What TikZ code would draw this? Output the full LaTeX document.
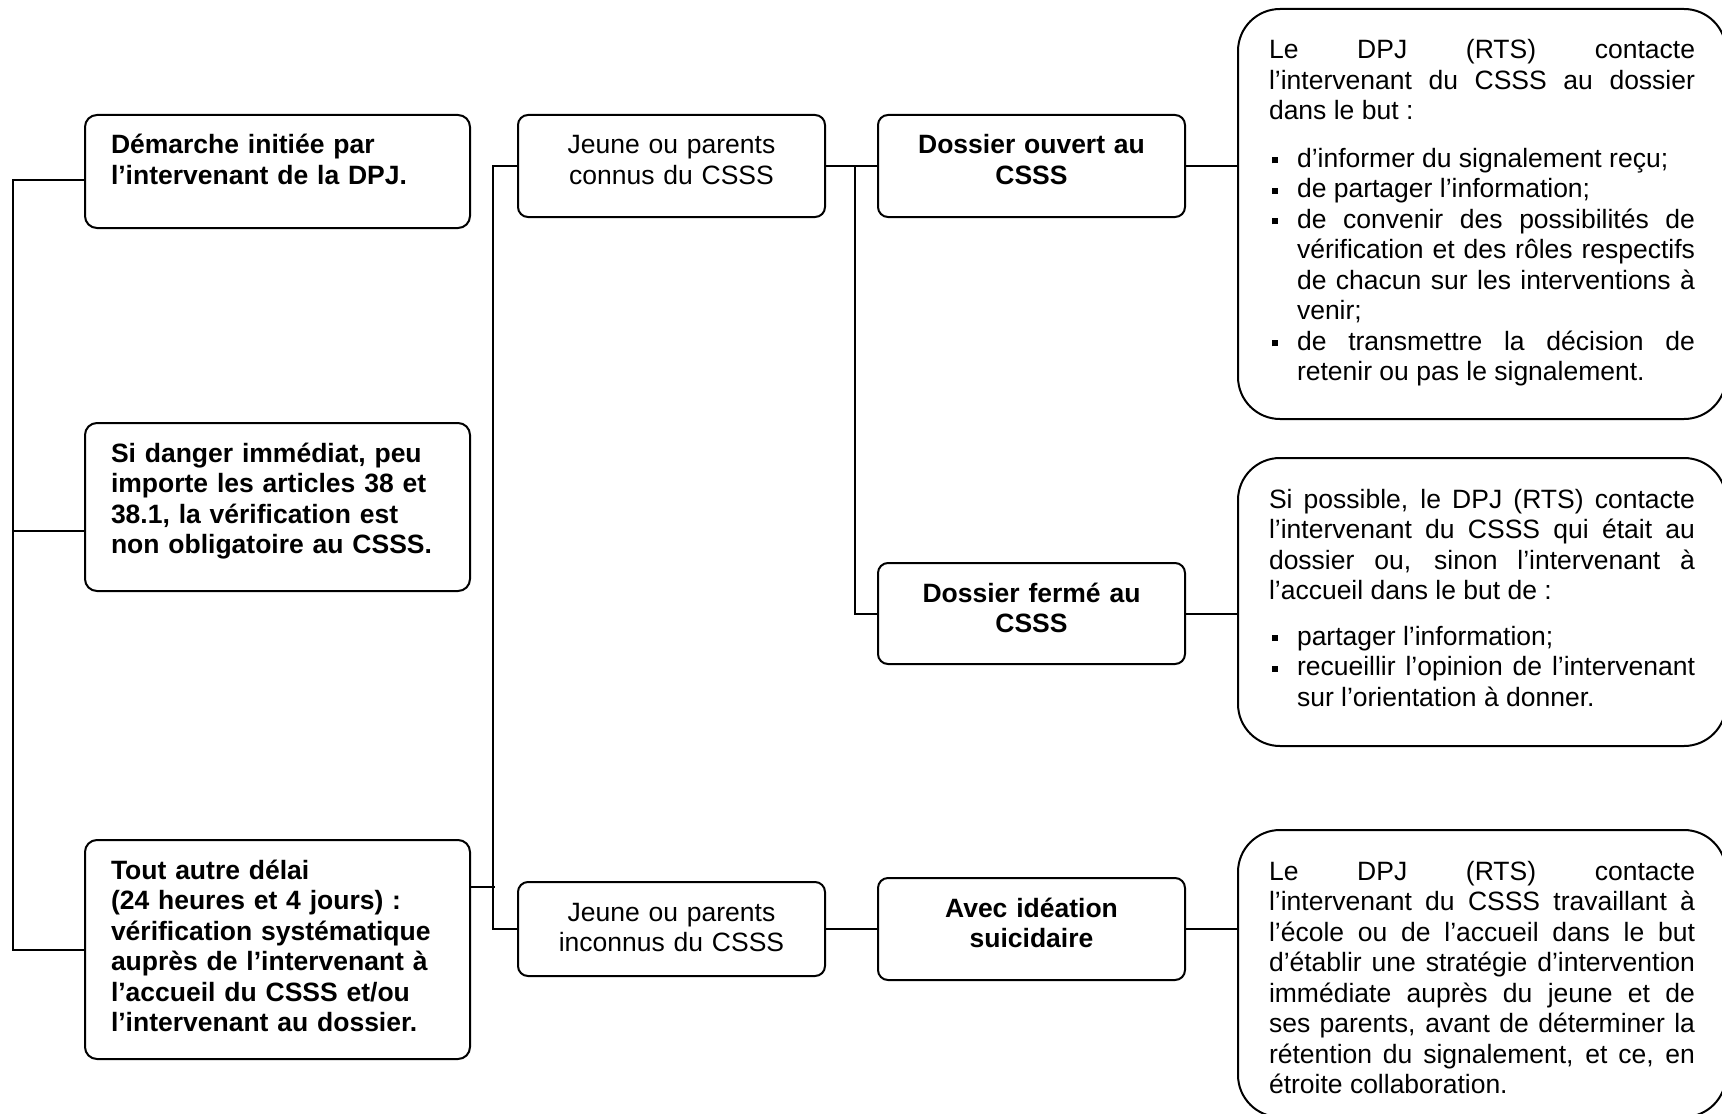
\documentclass[tikz,border=0pt]{standalone}
\usepackage{fontspec}
\setmainfont{Liberation Sans}
\usepackage{tikz}

\newcommand{\boxfont}{\fontsize{13.25pt}{15.25pt}\selectfont}
\newcommand{\carre}{\rule[2pt]{3pt}{3pt}}
\newcommand{\puce}[1]{\par\hangindent=14pt\hangafter=1\noindent
  \makebox[14pt][l]{\hspace{1.5pt}\carre}#1\par}
\setlength{\parskip}{0pt}
\hyphenpenalty=10000 \exhyphenpenalty=10000
\tolerance=10000 \hbadness=10000

\begin{document}
\begin{tikzpicture}[
  x=0.5pt, y=-0.5pt, line width=1pt,
  lbox/.style={draw, rounded corners=6pt, anchor=north west, text width=166.5pt,
               align=left, inner xsep=13pt, inner ysep=10pt, text height=9.5pt,
               text depth=#1, font=\boxfont\bfseries},
  mbox/.style={draw, rounded corners=5pt, anchor=north west, text width=133.5pt,
               align=center, inner xsep=10pt, inner ysep=10pt, text height=9.5pt,
               text depth=#1, font=\boxfont},
  rbox/.style={draw, rounded corners=21pt, anchor=north west, text width=213pt,
               align=justify, inner xsep=15.5pt, inner ysep=10pt, text height=15pt,
               text depth=#1, font=\boxfont}
]
  \useasboundingbox (0,0) rectangle (1722,1113);

  \node[lbox=27pt] (demarche) at (84,114)
    {Démarche initiée par\\l’intervenant de la DPJ.};
  \node[lbox=54.5pt] (danger) at (84,422)
    {Si danger immédiat, peu\\importe les articles 38 et\\38.1, la vérification est\\non obligatoire au CSSS.};
  \node[lbox=80pt] (delai) at (84,839)
    {Tout autre délai\\(24 heures et 4 jours) :\\vérification systématique\\auprès de l’intervenant à\\l’accueil du CSSS et/ou\\l’intervenant au dossier.};

  \node[mbox=21.5pt] (connus) at (517,114)
    {Jeune ou parents\\connus du CSSS};
  \node[mbox=17.5pt] (inconnus) at (517,881)
    {Jeune ou parents\\inconnus du CSSS};
  \node[mbox=21.5pt, font=\boxfont\bfseries] (ouvert) at (877,114)
    {Dossier ouvert au\\CSSS};
  \node[mbox=21pt, font=\boxfont\bfseries] (ferme) at (877,562)
    {Dossier fermé au\\CSSS};
  \node[mbox=21.5pt, font=\boxfont\bfseries] (ideation) at (877,877)
    {Avec idéation\\suicidaire};

  \node[rbox=170pt] (butouvert) at (1237,8)
    {Le DPJ (RTS) contacte\linebreak l’intervenant du CSSS au dossier\linebreak dans le but~:\par\vspace{8.5pt}
     \puce{d’informer du signalement reçu;}
     \puce{de partager l’information;}
     \puce{de convenir des possibilités de\linebreak vérification et des rôles respectifs\linebreak de chacun sur les interventions à\linebreak venir;}
     \puce{de transmettre la décision de\linebreak retenir ou pas le signalement.}};
  \node[rbox=109pt] (butferme) at (1237,457)
    {Si possible, le DPJ (RTS) contacte\linebreak l’intervenant du CSSS qui était au\linebreak dossier ou, sinon l’intervenant à\linebreak l’accueil dans le but de~:\par\vspace{7.5pt}
     \puce{partager l’information;}
     \puce{recueillir l’opinion de l’intervenant\linebreak sur l’orientation à donner.}};
  \node[rbox=108.5pt] (butideation) at (1237,829)
    {Le DPJ (RTS) contacte\linebreak l’intervenant du CSSS travaillant à\linebreak l’école ou de l’accueil dans le but\linebreak d’établir une stratégie d’intervention\linebreak immédiate auprès du jeune et de\linebreak ses parents, avant de déterminer la\linebreak rétention du signalement, et ce, en\linebreak étroite collaboration.};

  \draw ([yshift=-4.25pt]demarche.west) -- ++(-71,0) |- (delai.west);
  \draw ([yshift=-12pt]danger.west) -- ++(-71,0);
  \draw (connus.west) -- ++(-24,0) |- (inconnus.west);
  \draw ([yshift=31.25pt]delai.east) -- ++(24,0);
  \draw (connus.east) -- (ouvert.west);
  \draw (connus.east) ++(29,0) |- (ferme.west);
  \draw (inconnus.east) -- (ideation.west);
  \draw (ouvert.east) -- (ouvert.east -| butouvert.west);
  \draw (ferme.east) -- (ferme.east -| butferme.west);
  \draw (ideation.east) -- (ideation.east -| butideation.west);
\end{tikzpicture}
\end{document}
